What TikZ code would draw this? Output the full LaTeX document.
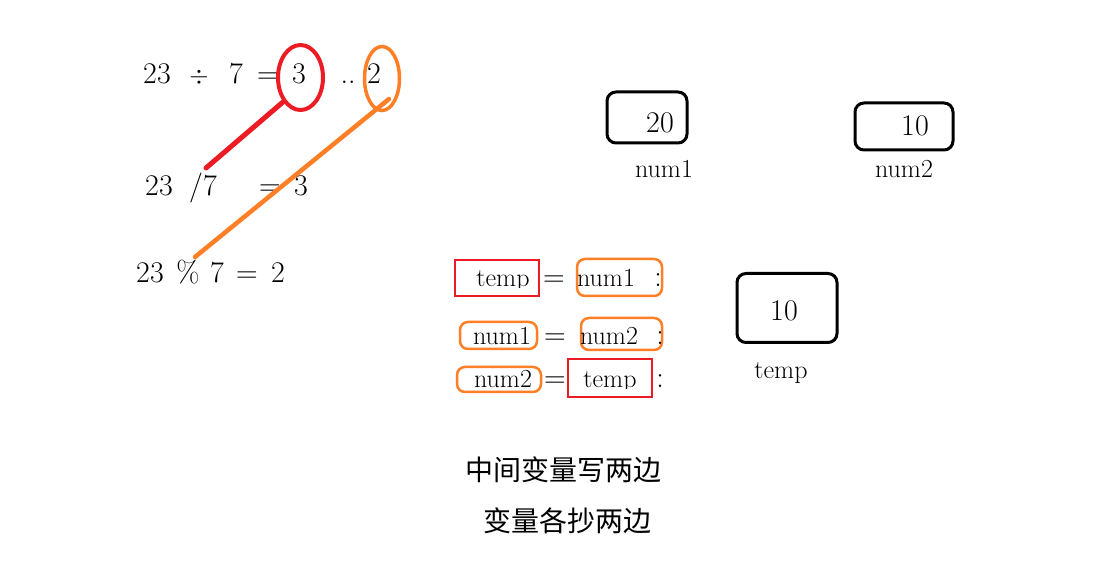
\documentclass[tikz,border=0pt]{standalone}
\usepackage{fontspec}
\newfontfamily\cjk{Noto Sans CJK SC}
\usetikzlibrary{shapes.geometric}
\definecolor{pred}{RGB}{237,28,36}
\definecolor{porange}{RGB}{255,127,39}
\begin{document}
\begin{tikzpicture}[x=1pt,y=-1pt,
  num/.style={font=\fontsize{30}{34}\selectfont, inner sep=0pt, anchor=base},
  word/.style={font=\fontsize{26}{30}\selectfont, inner sep=0pt, anchor=base},
  varbox/.style={draw, line width=3pt, rounded corners=9pt, inner sep=0pt},
  redbox/.style={draw=pred, line width=2pt, inner sep=0pt},
  orgbox/.style={draw=porange, line width=2.5pt, rounded corners=8pt, inner sep=0pt},
  redline/.style={pred, line width=5pt, line cap=round},
  orgline/.style={porange, line width=4.5pt, line cap=round},
  cn/.style={font=\cjk\fontsize{28}{32}\selectfont, inner sep=0pt}]
\useasboundingbox[fill=white] (0,0) rectangle (1109,569);

% ---- line 1: 23 / 7 = 3 ..2
\node[num] (a1) at (157,84) {23};
\node[num] (a2) at (199,84) {$\div$};
\node[num] (a3) at (236,84) {7};
\node[num] (a4) at (268,84) {=};
\node[num] (a5) at (299,84) {3};
\node[num] (a6) at (348,84) {..};
\node[num] (a7) at (374,84) {2};
\node[draw=pred, line width=4pt, ellipse, minimum width=45pt, minimum height=65pt, inner sep=0pt] (e1) at (300.5,77.5) {};
\node[draw=porange, line width=3.5pt, ellipse, minimum width=35pt, minimum height=64pt, inner sep=0pt] (e2) at (382,78.5) {};

% ---- line 2: 23 /7 = 3
\node[num] (b1) at (159,196) {23};
\node[num] (b2) at (203,196) {/7};
\node[num] (b3) at (270,196) {=};
\node[num] (b4) at (301,196) {3};

% ---- line 3: 23 % 7 = 2
\node[num] (c1) at (150,283) {23};
\node[num] (c2) at (188,283) {\%};
\node[num] (c3) at (217,283) {7};
\node[num] (c4) at (247,283) {=};
\node[num] (c5) at (278,283) {2};

% ---- connectors
\coordinate (r1) at (283,102);
\coordinate (r2) at (206,168);
\draw[redline] (r1) -- (r2);
\coordinate (o1) at (389,99);
\coordinate (o2) at (195,257);
\draw[orgline] (o2) -- (o1);

% ---- variable boxes
\node[varbox, minimum width=80pt, minimum height=51pt] (v1) at (647,117.5) {};
\node[num] (v1n) at (660,133) {20};
\node[word] (v1l) at (664,178) {num1};
\node[varbox, minimum width=98pt, minimum height=47pt] (v2) at (904,126.5) {};
\node[num] (v2n) at (915,136) {10};
\node[word] (v2l) at (904,178) {num2};
\node[varbox, minimum width=100pt, minimum height=69pt] (v3) at (787,308) {};
\node[num] (v3n) at (784,321) {10};
\node[word] (v3l) at (781,379) {temp};

% ---- swap statements
% row 1
\node[redbox, minimum width=84pt, minimum height=36pt] (s1a) at (497,278) {};
\begin{scope}
  \clip (450,250) rectangle (545,288);
  \node[word] (s1t) at (503,287) {temp};
\end{scope}
\node[num] (s1e) at (554,287) {=};
\node[orgbox, minimum width=85pt, minimum height=37pt] (s1b) at (619.5,277.5) {};
\node[word] (s1n) at (606,287) {num1};
\node[num] (s1c) at (658,287) {:};
% row 2
\node[orgbox, minimum width=77pt, minimum height=27pt] (s2a) at (498.5,335.5) {};
\node[word] (s2n) at (502,345) {num1};
\node[num] (s2e) at (555,345) {=};
\node[orgbox, minimum width=81pt, minimum height=32pt] (s2b) at (621.5,334) {};
\node[word] (s2m) at (609,345) {num2};
\node[num] (s2c) at (660,345) {:};
% row 3
\node[orgbox, minimum width=84pt, minimum height=25pt] (s3a) at (499,379.5) {};
\node[word] (s3n) at (503,388) {num2};
\node[num] (s3e) at (555,388) {=};
\node[redbox, minimum width=84pt, minimum height=38pt] (s3b) at (610,378) {};
\begin{scope}
  \clip (570,350) rectangle (652,389);
  \node[word] (s3t) at (610,388) {temp};
\end{scope}
\node[num] (s3c) at (660,388) {:};

% ---- Chinese notes
\node[cn] (n1) at (563,470) {中间变量写两边};
\node[cn] (n2) at (567,521) {变量各抄两边};
\end{tikzpicture}
\end{document}
